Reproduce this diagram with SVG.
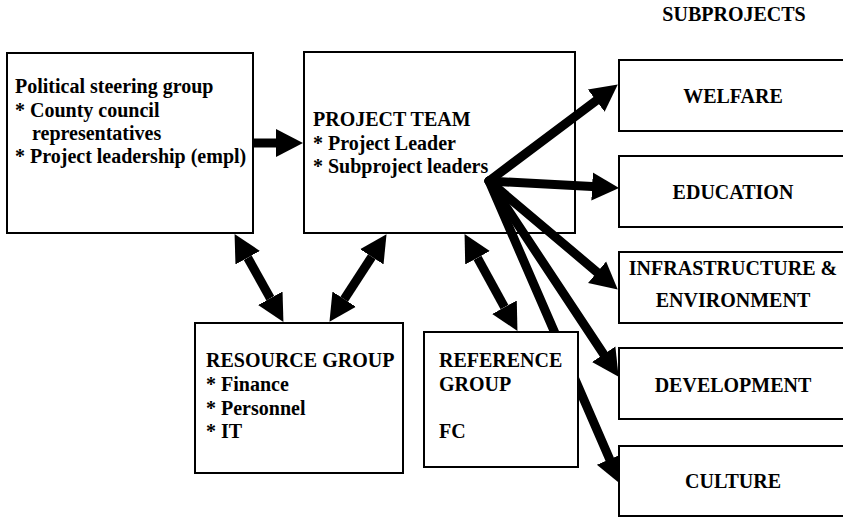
<svg xmlns="http://www.w3.org/2000/svg" width="843" height="517" viewBox="0 0 843 517">
  <style>
    .box { fill: #fff; stroke: #000; stroke-width: 2; }
    text { font-family: 'Liberation Serif', 'DejaVu Serif', serif; font-weight: 700; font-size: 20px; fill: #000; }
    .c { text-anchor: middle; }
    .link { fill: none; stroke: #000; stroke-width: 9; }
    .one { marker-end: url(#head); }
    .two { marker-start: url(#head); marker-end: url(#head); }
    .hub { stroke-linecap: round; }
  </style>
  <defs>
    <marker id="head" markerUnits="userSpaceOnUse" markerWidth="28" markerHeight="30" refX="0" refY="14" orient="auto-start-reverse" viewBox="0 0 28 28">
      <path d="M0,0 L27,14 L0,28 Z" fill="#000"/>
    </marker>
  </defs>

  <text class="c" x="734" y="21" font-family="Liberation Serif, serif">SUBPROJECTS</text>

  <g id="political">
    <rect class="box" x="7" y="53" width="246" height="180"/>
    <text x="15" y="93">Political steering group</text>
    <text x="15" y="117">* County council</text>
    <text x="32" y="140">representatives</text>
    <text x="15" y="163">* Project leadership (empl)</text>
  </g>

  <g id="project-team">
    <rect class="box" x="304" y="52" width="271" height="181"/>
    <text x="313" y="126">PROJECT TEAM</text>
    <text x="313" y="150">* Project Leader</text>
    <text x="313" y="173">* Subproject leaders</text>
  </g>

  <g id="resource">
    <rect class="box" x="195" y="323" width="208" height="150"/>
    <text x="206" y="367">RESOURCE GROUP</text>
    <text x="206" y="391">* Finance</text>
    <text x="206" y="415">* Personnel</text>
    <text x="206" y="438">* IT</text>
  </g>

  <!-- connectors sit over the team box; the reference box covers part of the culture line -->
  <g id="connectors">
    <line class="link one" x1="253" y1="143" x2="276" y2="143"/>
    <line class="link two" x1="247.7" y1="257.7" x2="270.3" y2="298.3"/>
    <line class="link two" x1="371.8" y1="256.8" x2="344.2" y2="299.2"/>
    <line class="link two" x1="477.5" y1="257.8" x2="504.5" y2="307.2"/>
    <line class="link one hub" x1="489" y1="181" x2="596.2" y2="100.6"/>
    <line class="link one hub" x1="489" y1="181" x2="592.1" y2="186.6"/>
    <line class="link one hub" x1="489" y1="181" x2="597.1" y2="272.2"/>
    <line class="link one hub" x1="489" y1="181" x2="603.7" y2="354.3"/>
    <line class="link one hub" x1="489" y1="181" x2="609.7" y2="459.2"/>
  </g>

  <g id="reference">
    <rect class="box" x="424" y="332" width="154" height="135"/>
    <text x="439" y="367">REFERENCE</text>
    <text x="439" y="391">GROUP</text>
    <text x="439" y="438">FC</text>
  </g>

  <g id="welfare">
    <rect class="box" x="619" y="60" width="240" height="71"/>
    <text class="c" x="733" y="103">WELFARE</text>
  </g>

  <g id="education">
    <rect class="box" x="619" y="156" width="240" height="71"/>
    <text class="c" x="733" y="199">EDUCATION</text>
  </g>

  <g id="infrastructure">
    <rect class="box" x="619" y="252" width="240" height="71"/>
    <text class="c" x="733" y="275">INFRASTRUCTURE &amp;</text>
    <text class="c" x="733" y="307">ENVIRONMENT</text>
  </g>

  <g id="development">
    <rect class="box" x="619" y="348" width="240" height="71"/>
    <text class="c" x="733" y="392">DEVELOPMENT</text>
  </g>

  <g id="culture">
    <rect class="box" x="619" y="446" width="240" height="70"/>
    <text class="c" x="733" y="488">CULTURE</text>
  </g>
</svg>
